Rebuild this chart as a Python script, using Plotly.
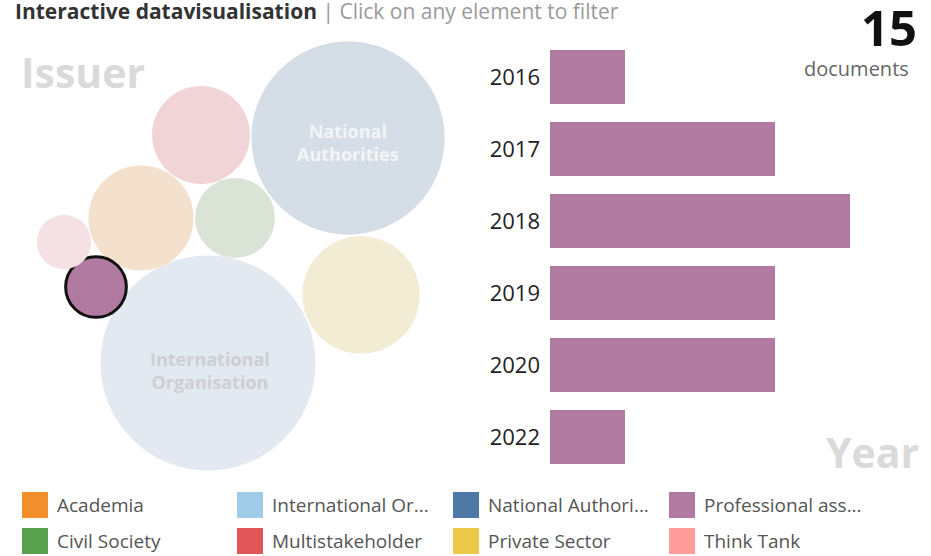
import plotly.graph_objects as go

W, H = 931, 556

# --- data -------------------------------------------------------------
years = ["2016", "2017", "2018", "2019", "2020", "2022"]
year_docs = [1, 3, 4, 3, 3, 1]

issuers = [
    "International Organisation", "National Authorities", "Private Sector",
    "Academia", "Multistakeholder", "Civil Society",
    "Professional associations", "Think Tank",
]
issuer_docs = [188, 152, 56, 45, 39, 26, 15, 12]
selected_issuer = "Professional associations"

legend_names = [
    "Academia", "International Or...", "National Authori...", "Professional ass...",
    "Civil Society", "Multistakeholder", "Private Sector", "Think Tank",
]
legend_colors = [
    "#f28e2b", "#a0cbe8", "#4e79a7", "#b07aa1",
    "#59a14f", "#e15759", "#edc948", "#ff9d9a",
]

# --- styling / layout (pixel space) -----------------------------------
faded = {
    "International Organisation": "#e3e9f0",
    "National Authorities": "#d5dee6",
    "Private Sector": "#f3ecd4",
    "Academia": "#f4e1cd",
    "Multistakeholder": "#f1d5d6",
    "Civil Society": "#d9e4d7",
    "Professional associations": "#b07aa1",
    "Think Tank": "#f5e1e3",
}
# packed-bubble centres as laid out by the packing (pixels from top-left)
bubble_pos = {
    "International Organisation": (208, 363),
    "National Authorities": (348, 138),
    "Private Sector": (361, 295),
    "Academia": (141, 218),
    "Multistakeholder": (201, 135),
    "Civil Society": (235, 218),
    "Professional associations": (96, 287),
    "Think Tank": (64, 242),
}
MAX_DIAM = 215
FONT = "Open Sans"


def px(x):
    return x / W


def py(y):
    return 1 - y / H


fig = go.Figure()

# year bars
fig.add_trace(go.Bar(
    x=year_docs, y=years, orientation="h",
    marker=dict(color="#b07aa1", line=dict(width=0)),
    xaxis="x", yaxis="y", hoverinfo="x+y", showlegend=False,
))

# issuer bubbles
sizeref = 2 * max(issuer_docs) / MAX_DIAM ** 2
fig.add_trace(go.Scatter(
    x=[bubble_pos[i][0] for i in issuers],
    y=[bubble_pos[i][1] for i in issuers],
    mode="markers",
    marker=dict(
        size=issuer_docs, sizemode="area", sizeref=sizeref,
        color=[faded[i] for i in issuers], opacity=1,
        line=dict(
            color="#111111",
            width=[3 if i == selected_issuer else 0 for i in issuers],
        ),
    ),
    text=issuers, hoverinfo="text",
    xaxis="x2", yaxis="y2", showlegend=False,
))

annotations = [
    dict(x=px(13), y=py(11), xref="paper", yref="paper", xanchor="left", yanchor="middle",
         text="<b>Interactive datavisualisation</b> <span style='color:#9a9a9a'>| Click on any element to filter</span>",
         showarrow=False, font=dict(family=FONT, size=21, color="#333333")),
    dict(x=px(919), y=py(27), xref="paper", yref="paper", xanchor="right", yanchor="middle",
         text="<b>%d</b>" % sum(year_docs), showarrow=False,
         font=dict(family=FONT, size=49, color="#111111")),
    dict(x=px(911), y=py(68), xref="paper", yref="paper", xanchor="right", yanchor="middle",
         text="documents", showarrow=False, font=dict(family=FONT, size=20, color="#666666")),
    dict(x=px(19), y=py(72), xref="paper", yref="paper", xanchor="left", yanchor="middle",
         text="<b>Issuer</b>", showarrow=False, font=dict(family=FONT, size=41, color="#dadada")),
    dict(x=px(921), y=py(452), xref="paper", yref="paper", xanchor="right", yanchor="middle",
         text="<b>Year</b>", showarrow=False, font=dict(family=FONT, size=41, color="#dadada")),
    dict(x=bubble_pos["National Authorities"][0], y=bubble_pos["National Authorities"][1] + 4,
         xref="x2", yref="y2", text="<b>National<br>Authorities</b>", showarrow=False,
         font=dict(family=FONT, size=18, color="#f3f5f7")),
    dict(x=bubble_pos["International Organisation"][0] + 2, y=bubble_pos["International Organisation"][1] + 7,
         xref="x2", yref="y2", text="<b>International<br>Organisation</b>", showarrow=False,
         font=dict(family=FONT, size=18, color="#cdcfd2")),
]

# legend built from swatches + labels (4 columns x 2 rows)
shapes = []
col_x = [22, 237, 453, 669]
row_y = [505, 541]
for k, (name, col) in enumerate(zip(legend_names, legend_colors)):
    x0 = col_x[k % 4]
    yc = row_y[k // 4]
    shapes.append(dict(type="rect", xref="paper", yref="paper",
                       x0=px(x0), x1=px(x0 + 26), y0=py(yc + 13), y1=py(yc - 13),
                       fillcolor=col, line=dict(width=0)))
    annotations.append(dict(x=px(x0 + 33), y=py(yc), xref="paper", yref="paper",
                            xanchor="left", yanchor="middle", text=name, showarrow=False,
                            font=dict(family=FONT, size=19, color="#555555")))

fig.update_layout(
    width=W, height=H,
    margin=dict(l=0, r=0, t=0, b=0),
    paper_bgcolor="white", plot_bgcolor="rgba(0,0,0,0)",
    bargap=0.25,
    xaxis=dict(domain=[px(550), px(925)], range=[0, 5], visible=False, fixedrange=True),
    yaxis=dict(domain=[py(473), py(41)], type="category", autorange="reversed",
               showgrid=False, zeroline=False, showline=False, ticks="",
               ticklabelstandoff=9, fixedrange=True,
               tickfont=dict(family=FONT, size=22, color="#222222")),
    xaxis2=dict(domain=[0, 1], range=[0, W], visible=False, fixedrange=True),
    yaxis2=dict(domain=[0, 1], range=[H, 0], visible=False, fixedrange=True),
    annotations=annotations,
    shapes=shapes,
    dragmode=False,
    showlegend=False,
)

# drop the browser's default body margin so the figure sits at the page origin
fig.write_html("out.html", config={"displayModeBar": False},
               post_script="document.body.style.margin='0';")
